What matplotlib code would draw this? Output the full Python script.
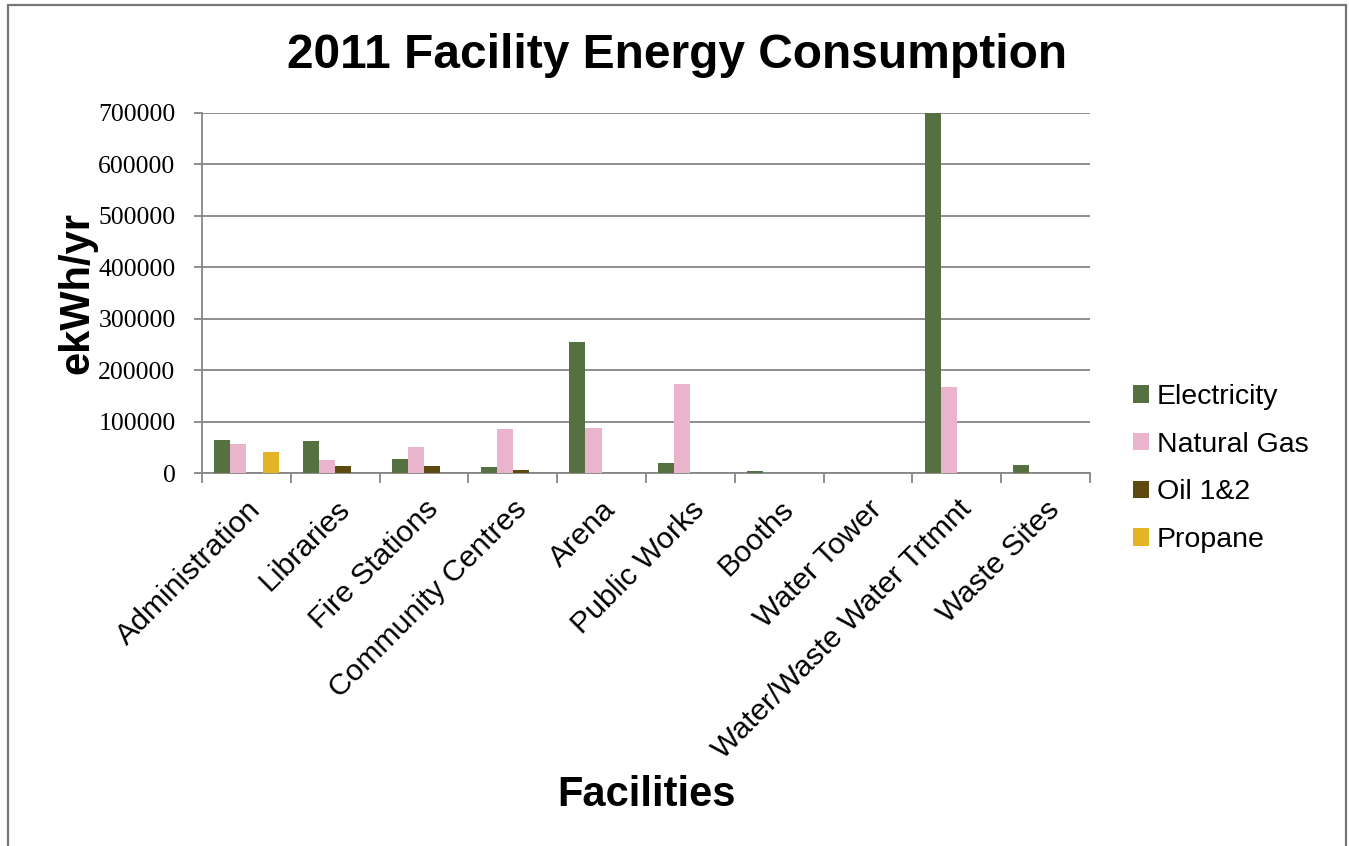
import matplotlib
matplotlib.use("Agg")
import matplotlib.pyplot as plt
import numpy as np
from matplotlib.patches import Rectangle, Patch

categories = ["Administration", "Libraries", "Fire Stations", "Community Centres",
              "Arena", "Public Works", "Booths", "Water Tower",
              "Water/Waste Water Trtmnt", "Waste Sites"]
electricity = [65000, 62000, 28000, 12500, 254000, 19000, 4500, 0, 700000, 15500]
natural_gas = [57000, 25000, 51000, 85500, 87500, 174000, 0, 0, 167000, 0]
oil_1_2 = [0, 13000, 14000, 5000, 0, 0, 0, 0, 0, 0]
propane = [41000, 0, 0, 0, 0, 0, 0, 0, 0, 0]
series_names = ["Electricity", "Natural Gas", "Oil 1&2", "Propane"]
series_values = [electricity, natural_gas, oil_1_2, propane]
colors = ["#557142", "#EAB4CD", "#5E4910", "#E5B326"]
yticks = [0, 100000, 200000, 300000, 400000, 500000, 600000, 700000]

W, H = 1349, 846
fig = plt.figure(figsize=(W / 100, H / 100), dpi=100)
ax = fig.add_axes([202 / W, 1 - 473 / H, (1090 - 202) / W, (473 - 113) / H])

n = len(categories)
x = np.arange(n)
bw = 1 / 5.5
for i, (name, vals, c) in enumerate(zip(series_names, series_values, colors)):
    ax.bar(x - 2 * bw + bw * (i + 0.5), vals, width=bw, color=c, label=name,
           zorder=3, linewidth=0)

ax.set_xlim(-0.5, n - 0.5)
ax.set_ylim(0, 700000)
grid_c = "#868686"
ax.set_yticks(yticks)
ax.set_yticklabels([str(v) for v in yticks], fontfamily="Liberation Serif", fontsize=18.5)
ax.yaxis.grid(True, color=grid_c, linewidth=1.3, zorder=0)
ax.set_axisbelow(True)
for s in ["top", "right"]:
    ax.spines[s].set_visible(False)
for s in ["left", "bottom"]:
    ax.spines[s].set_color(grid_c)
    ax.spines[s].set_linewidth(1.3)
ax.tick_params(axis="y", length=6, color=grid_c, width=1.3, pad=13)

ax.set_xticks(x)
ax.set_xticklabels(categories, rotation=45, ha="right", va="top",
                   rotation_mode="anchor", fontfamily="Liberation Sans", fontsize=21.7)
ax.tick_params(axis="x", which="major", length=0, pad=16)
ax.set_xticks(np.arange(-0.5, n, 1), minor=True)
ax.tick_params(axis="x", which="minor", length=7, color=grid_c, width=1.3)

fig.text(677 / W, 1 - 55 / H, "2011 Facility Energy Consumption", ha="center", va="center",
         fontfamily="Liberation Sans", fontweight="bold", fontsize=34.5)
fig.text(77 / W, 1 - 293 / H, "ekWh/yr", ha="center", va="center", rotation=90,
         fontfamily="Liberation Sans", fontweight="bold", fontsize=30)
fig.text(646 / W, 1 - 795 / H, "Facilities", ha="center", va="center",
         fontfamily="Liberation Sans", fontweight="bold", fontsize=30)

handles = [Patch(facecolor=c, edgecolor="none") for c in colors]
fig.legend(handles, series_names, loc="upper left",
           bbox_to_anchor=(1133 / W, 1 - 384 / H), bbox_transform=fig.transFigure,
           frameon=False, borderpad=0, borderaxespad=0,
           prop={"family": "Liberation Sans", "size": 20.5},
           handlelength=0.56, handleheight=0.56, handletextpad=0.28, labelspacing=0.76)

fig.patches.append(Rectangle((7.5 / W, -0.05), (1345.5 - 7.5) / W, 1.05 - 5.5 / H,
                             transform=fig.transFigure, fill=False,
                             edgecolor="#767676", linewidth=1.6))

fig.savefig("out.png", dpi=100)
